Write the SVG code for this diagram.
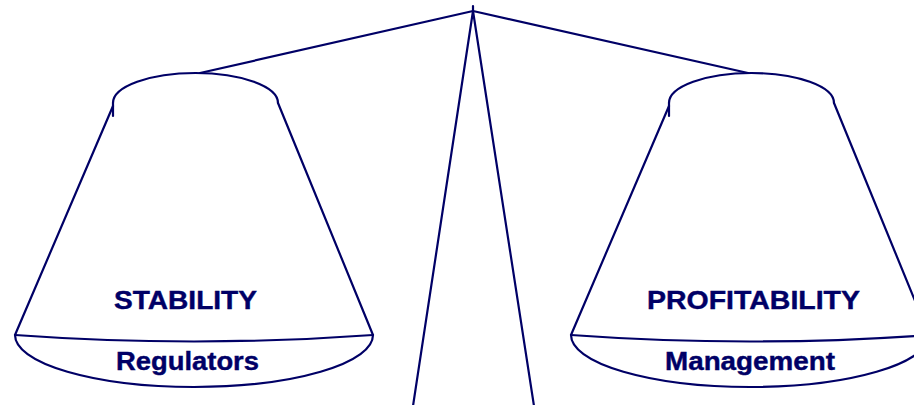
<svg xmlns="http://www.w3.org/2000/svg" width="914" height="405" viewBox="0 0 914 405">
<style>
.ln{fill:none;stroke:#000066;stroke-width:2.2;stroke-linejoin:round;stroke-linecap:round}
.t{font-family:"Liberation Sans",Arial,sans-serif;font-weight:bold;font-size:25px;fill:#000066;stroke:#000066;stroke-width:0.4}
</style>
<defs>
<g id="pan">
<path class="ln" d="M113,103 A82.5,30 0 0 1 278,103"/>
<path class="ln" d="M113,103 L113,116"/>
<path class="ln" d="M113,106 L15,335"/>
<path class="ln" d="M278,103 L373,335"/>
<path class="ln" d="M15,335 Q194,348 373,335"/>
<path class="ln" d="M15,335 A179,52 0 0 0 373,335"/>
</g>
</defs>
<rect width="914" height="405" fill="#fff"/>
<g id="stand">
<path class="ln" d="M413,406 L473,11 L534,406"/>
<path class="ln" d="M473,11 L473,6"/>
</g>
<g id="connectors">
<path class="ln" d="M200,73 L473,11 L748,73"/>
</g>
<g id="pan-stability">
<use href="#pan"/>
<text class="t" x="114" y="309" textLength="143" lengthAdjust="spacingAndGlyphs">STABILITY</text>
<text class="t" x="116" y="370" textLength="143" lengthAdjust="spacingAndGlyphs">Regulators</text>
</g>
<g id="pan-profitability">
<use href="#pan" transform="translate(556,0)"/>
<text class="t" x="647" y="309" textLength="213" lengthAdjust="spacingAndGlyphs">PROFITABILITY</text>
<text class="t" x="665" y="370" textLength="170" lengthAdjust="spacingAndGlyphs">Management</text>
</g>
</svg>
